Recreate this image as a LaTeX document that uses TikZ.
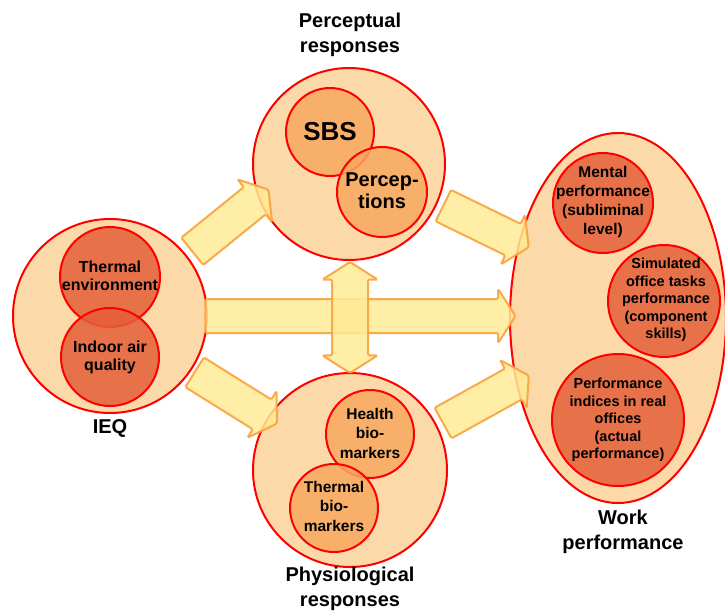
\documentclass[tikz,border=0pt]{standalone}
\usepackage{fontspec}
\setmainfont{Liberation Sans}
\usetikzlibrary{
  shapes.geometric,
  shapes.arrows
}

\definecolor{peach}{HTML}{FCD9A9}
\definecolor{ltorange}{HTML}{F7A85F}
\definecolor{dkorange}{HTML}{E45F39}
\definecolor{arrowfill}{HTML}{FFEB95}
\definecolor{arrowline}{HTML}{F9A23C}

\tikzset{
  outer/.style={circle,draw=red,line width=2pt,fill=peach,inner sep=0pt},
  inner/.style={circle,draw=red,line width=2pt,fill=ltorange,fill opacity=.85,inner sep=0pt},
  innerdk/.style={inner,fill=dkorange},
  fat/.style={single arrow,draw=arrowline,fill=arrowfill,line width=2pt,
    fill opacity=.85,draw opacity=.9,rounded corners=1.5pt,inner xsep=0pt,inner ysep=16.5pt,
    single arrow head extend=10pt,single arrow tip angle=115},
  title/.style={font=\fontsize{20}{25}\selectfont\bfseries,align=center},
  txt/.style={font=\fontsize{16}{18}\selectfont\bfseries,align=center,inner sep=0pt},
  txtsm/.style={font=\fontsize{14.5}{17.5}\selectfont\bfseries,align=center,inner sep=0pt}
}

\begin{document}
\begin{tikzpicture}[x=1pt,y=-1pt]
  \useasboundingbox (0,0) rectangle (725,611);

  % big circles
  \node[outer,minimum size=194pt] (ieq) at (110,316) {};
  \node[outer,minimum size=192pt] (perc) at (349,164) {};
  \node[outer,minimum size=194pt] (phys) at (350,470) {};
  \node[ellipse,draw=red,line width=2pt,fill=peach,inner sep=0pt,
    minimum width=216pt,minimum height=370pt] (work) at (618,318) {};

  % arrows
  \node[fat,minimum height=98pt,rotate=39] (ieq-perc) at (226,224) {};
  \node[fat,minimum height=95pt,rotate=-26] (perc-work) at (481,224) {};
  \node[fat,minimum height=97pt,rotate=-32] (ieq-phys) at (231,395) {};
  \node[fat,minimum height=98pt,rotate=29] (phys-work) at (481,402) {};
  \node[fat,inner ysep=16pt,minimum height=310pt] (ieq-work) at (355,316) {};
  \node[fat,double arrow,double arrow head extend=9.5pt,double arrow tip angle=115,
    inner ysep=17pt,minimum height=111pt,rotate=90] (perc-phys) at (350,317.5) {};

  % inner circles
  \node[inner,minimum size=88pt] (sbs) at (330,132) {};
  \node[inner,minimum size=90pt] (percep) at (382,192) {};
  \node[font=\fontsize{26}{28}\selectfont\bfseries] (sbs-t) at (sbs) {SBS};
  \node[font=\fontsize{20}{22}\selectfont\bfseries,align=center] (percep-t) at (382,191) {Percep-\\tions};

  \node[innerdk,minimum size=100pt] (therm) at (110,277) {};
  \node[innerdk,minimum size=98pt] (iaq) at (110,357) {};
  \node[txt] (therm-t) at (110,276) {Thermal\\environment};
  \node[txt] (iaq-t) at (110,357) {Indoor air\\quality};

  \node[inner,minimum size=88pt] (health) at (370,434) {};
  \node[inner,minimum size=88pt] (thbio) at (334,508) {};
  \node[txt,font=\fontsize{15.5}{19.5}\selectfont\bfseries] (health-t) at (370,433) {Health\\bio-\\markers};
  \node[txt,font=\fontsize{15.5}{19.5}\selectfont\bfseries] (thbio-t) at (334,506) {Thermal\\bio-\\markers};

  \node[innerdk,minimum size=100pt] (mental) at (603,203) {};
  \node[innerdk,minimum size=112pt] (sim) at (664,301) {};
  \node[innerdk,minimum size=132pt] (real) at (618,420) {};
  \node[txt,font=\fontsize{15.5}{19}\selectfont\bfseries] (mental-t) at (603,202) {Mental\\performance\\(subliminal\\level)};
  \node[txtsm] (sim-t) at (666,300) {Simulated\\office tasks\\performance\\(component\\skills)};
  \node[txtsm] (real-t) at (618,420) {Performance\\indices in real\\offices\\(actual\\performance)};

  % titles
  \node[title] (perc-l) at (350,35) {Perceptual\\responses};
  \node[title] (phys-l) at (350,589) {Physiological\\responses};
  \node[title] (ieq-l) at (110,428) {IEQ};
  \node[title] (work-l) at (623,532) {Work\\performance};
\end{tikzpicture}
\end{document}
